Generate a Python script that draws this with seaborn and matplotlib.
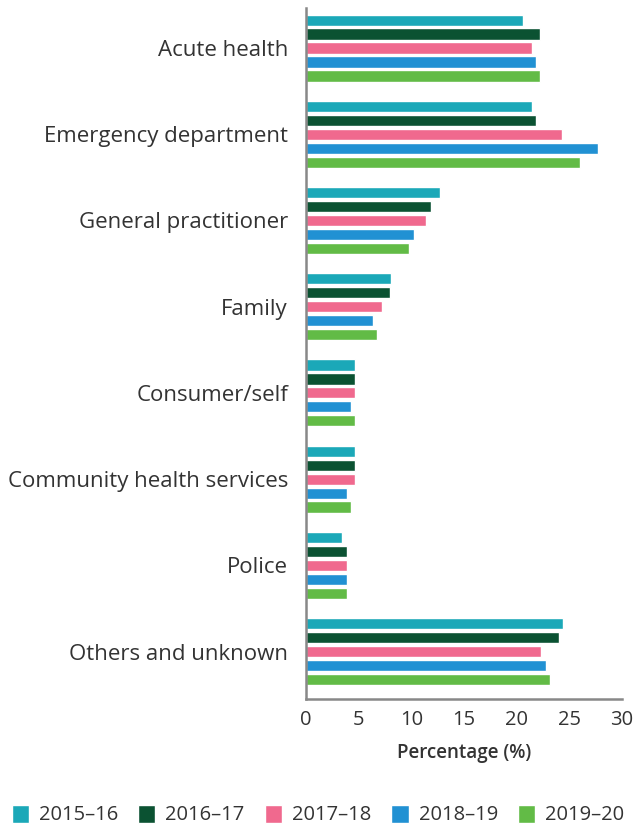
import pandas as pd
import matplotlib.pyplot as plt
import seaborn as sns
from matplotlib.patches import Patch

categories = ["Acute health", "Emergency department", "General practitioner", "Family",
              "Consumer/self", "Community health services", "Police", "Others and unknown"]
years = ["2015\u201316", "2016\u201317", "2017\u201318", "2018\u201319", "2019\u201320"]
v_2015 = [20.6, 21.5, 12.7, 8.1, 4.7, 4.7, 3.4, 24.4]
v_2016 = [22.2, 21.8, 11.9, 8.0, 4.7, 4.7, 3.9, 24.0]
v_2017 = [21.5, 24.3, 11.4, 7.2, 4.7, 4.7, 3.9, 22.3]
v_2018 = [21.8, 27.7, 10.3, 6.4, 4.3, 3.9, 3.9, 22.8]
v_2019 = [22.2, 26.0, 9.8, 6.7, 4.7, 4.3, 3.9, 23.2]
colors = ["#1BA8B8", "#0B5232", "#F0698E", "#2191D3", "#62BB46"]

# long format table for seaborn
rows = []
for year, vals in zip(years, [v_2015, v_2016, v_2017, v_2018, v_2019]):
    for cat, v in zip(categories, vals):
        rows.append({"category": cat, "year": year, "value": v})
df = pd.DataFrame(rows)

sns.set_style("white")
plt.rcParams['font.family'] = ['Open Sans', 'DejaVu Sans']
text_color = "#333333"

fig = plt.figure(figsize=(6.36, 8.27), dpi=100)
ax = fig.add_axes([0.4811, 0.1548, 0.4969, 0.8355])

sns.barplot(data=df, y="category", x="value", hue="year", order=categories,
            hue_order=years, palette=colors, orient="h", width=0.81, gap=0.2,
            saturation=1, ax=ax, legend=False)

ax.set_xlim(0, 30)
ax.set_ylim(7.55, -0.464)
ax.set_xticks([0, 5, 10, 15, 20, 25, 30])
ax.set_ylabel("")
ax.set_xlabel("Percentage (%)", fontsize=13.5, fontweight="semibold", color=text_color, labelpad=9)
ax.tick_params(axis="y", length=0, pad=13, labelsize=16, labelcolor=text_color)
ax.tick_params(axis="x", length=6, width=1.5, color="#888888", direction="out",
               labelsize=14.5, labelcolor=text_color, pad=2)
for side in ["top", "right"]:
    ax.spines[side].set_visible(False)
for side in ["left", "bottom"]:
    ax.spines[side].set_color("#888888")
    ax.spines[side].set_linewidth(1.8)

handles = [Patch(facecolor=c, label=y) for c, y in zip(colors, years)]
fig.legend(handles=handles, loc="lower center", bbox_to_anchor=(0.5, -0.02), ncol=5,
           frameon=False, fontsize=14.5, handlelength=0.85, handleheight=1.0,
           handletextpad=0.5, columnspacing=1.0, labelcolor=text_color)

plt.savefig("out.png", dpi=100)
plt.close()
